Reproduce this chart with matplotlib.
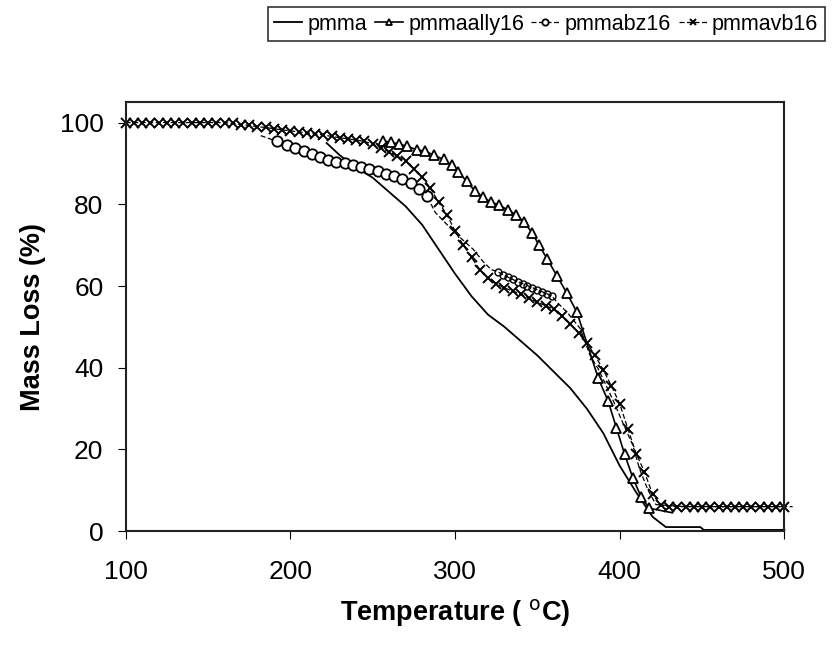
import matplotlib
matplotlib.use("Agg")
from matplotlib import pyplot as plt

plt.rcParams['font.family'] = ['Liberation Sans', 'DejaVu Sans']

# pmma (solid line, no markers)
pmma_T = [222, 230, 240, 250, 260, 270, 280, 290, 300, 310, 320, 330, 340,
          350, 360, 370, 380, 390, 400, 410, 420, 428, 440, 449, 451, 470, 500]
pmma_M = [95, 92, 89, 86.5, 83, 79.5, 75, 69, 63, 57.5, 53, 50, 46.5,
          43, 39, 35, 30, 24, 16, 9.5, 3.5, 1, 1, 1, 0.3, 0.3, 0.3]

# pmmaally16 (triangles)
ally_T = [256, 261, 266, 271, 277, 282, 287, 293, 298, 302, 307, 312, 317, 322,
          327, 332, 337, 342, 347, 351, 356, 362, 368, 374, 387, 393, 398, 403,
          408, 413, 418, 432]
ally_M = [95.5, 95.2, 94.7, 94.2, 93.3, 93, 92, 91, 89.6, 88, 85.6, 83.3, 81.7, 80.5,
          79.8, 78.6, 77.5, 75.6, 72.9, 70, 66.6, 62.4, 58.2, 53.6, 37.4, 31.8, 25.3, 18.8,
          13, 8.4, 5.6, 4.5]

# pmmabz16 (circles)
bz_T = [182, 192, 198, 203, 208, 213, 218, 223, 228, 233, 238, 243, 248, 253, 258,
        263, 268, 273, 278, 283, 288, 300, 311, 317, 322, 326, 329, 332, 335, 338,
        341, 344, 347, 350, 353, 356, 359, 362, 368, 376, 382, 387, 396, 402, 408,
        412, 417, 422, 440, 505]
bz_M = [96.8, 95.4, 94.4, 93.7, 93, 92.2, 91.5, 90.9, 90.4, 90, 89.6, 89.2, 88.7, 88.1, 87.5,
        87, 86.3, 85.2, 83.8, 82, 78, 73, 69, 66, 64, 63.5, 62.8, 62.2, 61.6, 61.1,
        60.6, 60.1, 59.6, 59.1, 58.6, 58.1, 57.5, 56, 53.6, 49.6, 43, 39.7, 32, 26.4, 21,
        15.3, 10.2, 6.5, 6, 6]
bz_big = list(range(1, 20))      # well separated circles
bz_dense = list(range(25, 37))   # crowded circles, drawn smaller

# pmmavb16 (crosses)
vb_T = list(range(100, 505, 5))
vb_M = [100, 100, 100, 100, 100, 100, 100, 100, 100, 100, 100, 100, 100, 99.8, 99.5,
        99.3, 99, 98.8, 98.5, 98.2, 98, 97.7, 97.5, 97.2, 97, 96.6, 96.3, 96, 95.7,
        95.4, 94.7, 93.8, 92.8, 91.8, 90.5, 88.7, 86.6, 84, 80.5, 77.5, 73.5, 70, 67,
        64, 62, 60.6, 59.5, 58.8, 58, 57, 56, 55.2, 54.3, 52.7, 50.8, 48.5, 46, 43,
        39.5, 35.5, 31.2, 25, 19, 14.5, 9, 6.3, 6, 6, 6, 6, 6, 6, 6, 6, 6, 6, 6, 6,
        6, 6, 6]

x_ticks = [100, 200, 300, 400, 500]
y_ticks = [0, 20, 40, 60, 80, 100]

fig = plt.figure(figsize=(8.38, 6.59), dpi=100)
ax = fig.add_axes([0.150, 0.194, 0.786, 0.651])

ax.plot(pmma_T, pmma_M, color='black', lw=1.3, label='pmma', clip_on=False)
ax.plot(ally_T, ally_M, color='black', lw=1.2, marker='^', ms=7, mfc='white',
        mew=1.3, markevery=list(range(len(ally_T) - 1)), label='pmmaally16', clip_on=False)
ax.plot(bz_T, bz_M, color='black', lw=0.9, ls=(0, (4, 2)), marker='o', ms=7.5, mfc='white',
        mew=1.3, markevery=bz_big, label='pmmabz16', clip_on=False)
ax.plot([bz_T[i] for i in bz_dense], [bz_M[i] for i in bz_dense], ls='none',
        marker='o', ms=5, mfc='none', mec='black', mew=1.0)
ax.plot(vb_T, vb_M, color='black', lw=0.9, ls=(0, (4, 2)), marker='x', ms=6.5,
        mew=1.4, label='pmmavb16', clip_on=False)

ax.set_xlim(100, 500)
ax.set_ylim(0, 105)
ax.set_xticks(x_ticks)
ax.set_yticks(y_ticks)
ax.tick_params(direction='out', length=6, labelsize=19, top=False, right=False)
ax.tick_params(axis='x', pad=15)
ax.tick_params(axis='y', pad=10)
for s in ax.spines.values():
    s.set_linewidth(1.5)
    s.set_color('#222222')

ax.set_xlabel('Temperature ( $^{\\mathrm{o}}$C)', fontsize=19.5, fontweight='bold', labelpad=9)
ax.set_ylabel('Mass Loss (%)', fontsize=19.5, fontweight='bold', labelpad=10)

leg = fig.legend(loc='upper right', bbox_to_anchor=(0.997, 1.005), ncol=4,
                 fontsize=15.5, frameon=True, fancybox=False, edgecolor='black',
                 handlelength=1.3, columnspacing=0.35, handletextpad=0.25,
                 borderpad=0.3, markerscale=0.6)
leg.get_frame().set_linewidth(1.2)

fig.savefig('out.png', dpi=100)
